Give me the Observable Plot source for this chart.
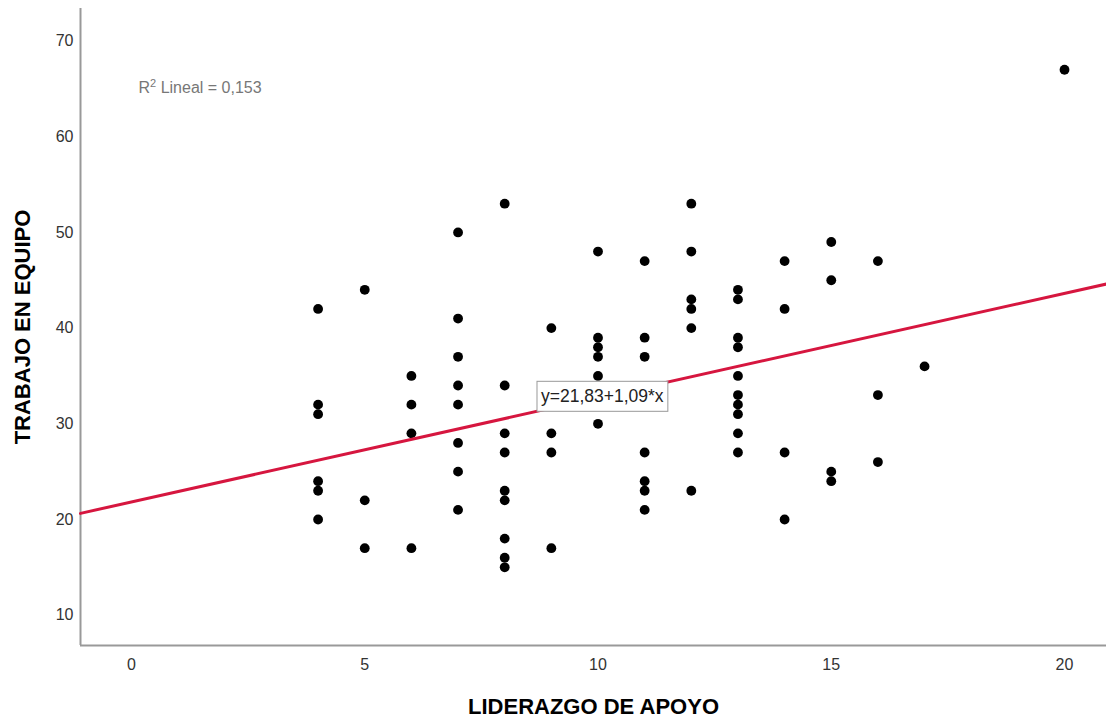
<!DOCTYPE html>
<html><head><meta charset="utf-8">
<script src="https://cdn.jsdelivr.net/npm/d3@7"></script>
<script src="https://cdn.jsdelivr.net/npm/@observablehq/plot@0.6"></script>
<style>html,body{margin:0;padding:0;background:#fff}</style>
</head><body><div id="chart"></div>
<script>
// LIDERAZGO DE APOYO (x) and TRABAJO EN EQUIPO (y)
const liderazgo = [
  4,4,4,4,4,4,
  5,5,5,
  6,6,6,6,
  7,7,7,7,7,7,7,7,
  8,8,8,8,8,8,8,8,8,
  9,9,9,9,
  10,10,10,10,10,10,
  11,11,11,11,11,11,11,
  12,12,12,12,12,12,
  13,13,13,13,13,13,13,13,13,13,
  14,14,14,14,
  15,15,15,15,
  16,16,16,
  17,
  20
];
const trabajo = [
  42,32,31,24,23,20,
  44,22,17,
  35,32,29,17,
  50,41,37,34,32,28,25,21,
  53,34,29,27,23,22,18,16,15,
  40,29,27,17,
  48,39,38,37,35,30,
  47,39,37,27,24,23,21,
  53,48,43,42,40,23,
  44,43,39,38,35,33,32,31,29,27,
  47,42,27,20,
  49,45,25,24,
  47,33,26,
  36,
  67
];
const xTicks = [0, 5, 10, 15, 20];
const yTicks = [10, 20, 30, 40, 50, 60, 70];
const intercept = 21.83;
const slope = 1.09;
const r2Parts = ["R", "2", " Lineal = 0,153"];
const eqLabel = "y=21,83+1,09*x";
const xTitle = "LIDERAZGO DE APOYO";
const yTitle = "TRABAJO EN EQUIPO";
const xDomain = [-1.093, 20.9];
const yDomain = [6.83, 73.4];

const points = liderazgo.map((x, i) => ({x, y: trabajo[i]}));
const fit = xDomain.map(x => ({x, y: intercept + slope * x}));
const mx = d3.mean(liderazgo);
const eq = [{x: mx, y: intercept + slope * mx, label: eqLabel}];

const chart = Plot.plot({
  width: 1106, height: 723,
  marginLeft: 80, marginRight: 0, marginTop: 8, marginBottom: 78,
  style: {fontFamily: "'Liberation Sans', Arial, sans-serif", background: "#fff", color: "#333"},
  x: {domain: xDomain},
  y: {domain: yDomain},
  marks: [
    Plot.axisX(xTicks, {tickSize: 0, tickPadding: 13, fontSize: 16, label: null}),
    Plot.axisY(yTicks, {tickSize: 0, tickPadding: 7, fontSize: 16, label: null}),
    Plot.ruleX([xDomain[0]], {stroke: "#999", strokeWidth: 2}),
    Plot.ruleY([yDomain[0]], {stroke: "#999", strokeWidth: 2}),
    Plot.dot(points, {x: "x", y: "y", r: 4.9, fill: "#000"}),
    Plot.line(fit, {x: "x", y: "y", stroke: "#d6163f", strokeWidth: 3}),
    Plot.text(eq, {x: "x", y: "y", text: "label", fontSize: 17.5, fill: "#222", className: "eq"}),
    Plot.text([r2Parts.join("")], {frameAnchor: "top-left", dx: 58, dy: 79, textAnchor: "start", lineAnchor: "middle", fontSize: 16, fill: "#777", className: "r2"}),
    Plot.text([xTitle], {frameAnchor: "bottom", dy: 61, lineAnchor: "middle", textAnchor: "middle", fontSize: 22, fontWeight: "bold", fill: "#000"}),
    Plot.text([yTitle], {frameAnchor: "left", dx: -58, rotate: -90, lineAnchor: "middle", textAnchor: "middle", fontSize: 22, fontWeight: "bold", fill: "#000"})
  ]
});
document.getElementById("chart").append(chart);

// superscript 2 in the R² label
const r2g = chart.querySelector("g.r2");
if (r2g) {
  const t = r2g.querySelector("text");
  t.textContent = "";
  const ns = "http://www.w3.org/2000/svg";
  const a = document.createElementNS(ns, "tspan"); a.textContent = r2Parts[0];
  const s = document.createElementNS(ns, "tspan"); s.textContent = r2Parts[1];
  s.setAttribute("dy", "-6"); s.setAttribute("font-size", "11");
  const c = document.createElementNS(ns, "tspan"); c.textContent = r2Parts[2];
  c.setAttribute("dy", "6");
  t.append(a, s, c);
}

// box around the equation label
const g = chart.querySelector("g.eq");
if (g) {
  const t = g.querySelector("text");
  const b = t.getBBox();
  const rect = document.createElementNS("http://www.w3.org/2000/svg", "rect");
  const cy = b.y + b.height / 2;
  rect.setAttribute("x", b.x - 4);
  rect.setAttribute("y", cy - 15);
  rect.setAttribute("width", b.width + 8);
  rect.setAttribute("height", 30);
  rect.setAttribute("fill", "#fff");
  rect.setAttribute("stroke", "#999");
  rect.setAttribute("stroke-width", 1);
  if (t.getAttribute("transform")) rect.setAttribute("transform", t.getAttribute("transform"));
  t.parentNode.insertBefore(rect, t);
}
</script>
</body></html>
